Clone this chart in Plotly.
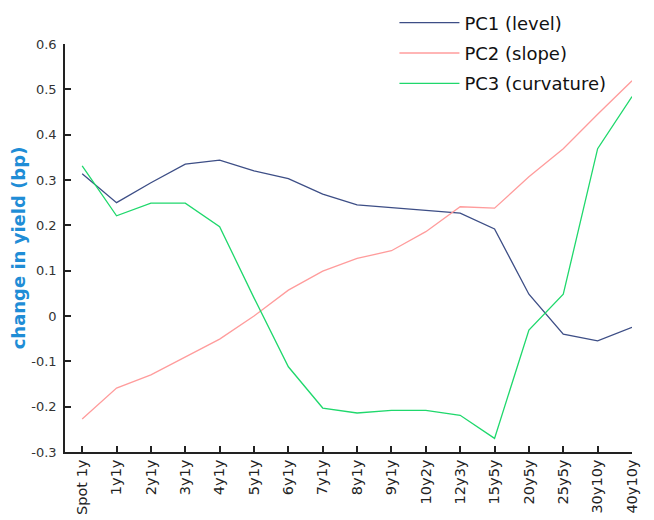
import plotly.graph_objects as go

tenors = ["Spot 1y", "1y1y", "2y1y", "3y1y", "4y1y", "5y1y", "6y1y", "7y1y", "8y1y",
          "9y1y", "10y2y", "12y3y", "15y5y", "20y5y", "25y5y", "30y10y", "40y10y"]
pc1_level = [0.314, 0.250, 0.294, 0.335, 0.344, 0.320, 0.303, 0.269, 0.245,
             0.239, 0.234, 0.227, 0.192, 0.048, -0.040, -0.055, -0.025]
pc2_slope = [-0.227, -0.159, -0.130, -0.091, -0.051, 0.000, 0.057, 0.099, 0.127,
             0.144, 0.186, 0.241, 0.238, 0.307, 0.369, 0.445, 0.519]
pc3_curvature = [0.331, 0.221, 0.249, 0.249, 0.197, 0.040, -0.112, -0.203, -0.214,
                 -0.208, -0.208, -0.219, -0.270, -0.031, 0.048, 0.369, 0.484]

series = [
    ("PC1 (level)", pc1_level, "#3d4e86"),
    ("PC2 (slope)", pc2_slope, "#ff9c9c"),
    ("PC3 (curvature)", pc3_curvature, "#1fd86c"),
]

fig = go.Figure()
for i, (name, vals, col) in enumerate(series):
    fig.add_trace(go.Scatter(
        x=list(range(len(tenors))), y=vals, mode="lines", name=name,
        line=dict(color=col, width=1.3), legendgroup=f"g{i}",
    ))

# page body has an 8px default margin, so the figure is 8px smaller
fig.update_layout(
    width=646, height=512,
    margin=dict(l=57, r=22, t=36, b=68, autoexpand=False),
    paper_bgcolor="white", plot_bgcolor="white",
    font=dict(family="DejaVu Sans", size=13, color="#222222"),
    showlegend=True,
    legend=dict(
        x=0.581, y=1.097, xanchor="left", yanchor="top",
        bgcolor="rgba(255,255,255,0)", borderwidth=0,
        font=dict(family="DejaVu Sans", size=18, color="#111111"),
        itemwidth=60, tracegroupgap=4,
    ),
    xaxis=dict(
        range=[-0.5, 16], tickmode="array", tickvals=list(range(len(tenors))),
        ticktext=tenors, tickangle=-90, showgrid=False, zeroline=False,
        showline=True, linecolor="#222222", linewidth=1.5,
        ticks="inside", ticklen=6, tickcolor="#222222", tickwidth=1.5,
        tickfont=dict(family="DejaVu Sans", size=14.5, color="#222222"),
    ),
    yaxis=dict(
        range=[-0.3, 0.6], tickmode="array",
        tickvals=[-0.3, -0.2, -0.1, 0, 0.1, 0.2, 0.3, 0.4, 0.5, 0.6],
        ticktext=["-0.3", "-0.2", "-0.1", "0", "0.1", "0.2", "0.3", "0.4", "0.5", "0.6"],
        showgrid=False, zeroline=False,
        showline=True, linecolor="#222222", linewidth=1.5,
        ticks="inside", ticklen=6, tickcolor="#222222", tickwidth=1.5,
        ticklabelstandoff=4,
        tickfont=dict(family="DejaVu Sans", size=13, color="#333333"),
        title=dict(text="<b>change in yield (bp)</b>", standoff=5,
                   font=dict(family="DejaVu Sans", size=18, color="#1f8dd6")),
    ),
)

fig.write_html("out.html")
